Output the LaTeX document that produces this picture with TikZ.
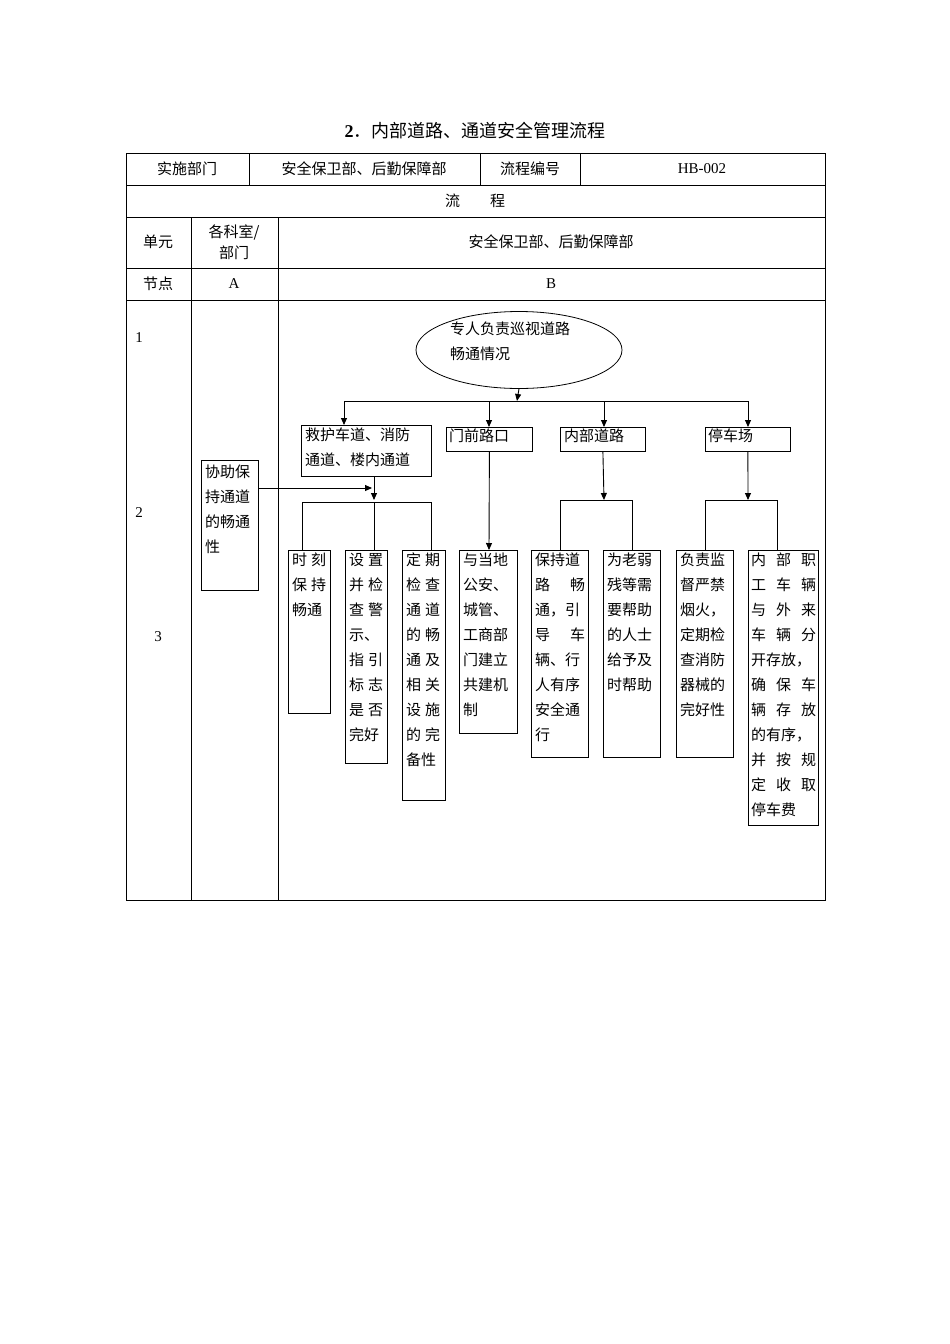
\documentclass[tikz,border=0pt]{standalone}
\usepackage{fontspec}
\setmainfont{Liberation Serif}
\newfontfamily\cjk{Noto Sans CJK SC}
\usetikzlibrary{arrows.meta,shapes.geometric}
\newcommand\jj[2]{\makebox[#1pt][s]{#2}}
\begin{document}
\begin{tikzpicture}[x=1pt,y=-1pt,
  every node/.style={font=\cjk\fontsize{15}{25}\selectfont, inner sep=0pt},
  tb/.style={draw, line width=0.6pt},
  bx/.style={draw, line width=0.8pt, anchor=north west},
  tx/.style={anchor=north west, align=left},
  ar/.style={-{Triangle[length=7pt,width=6pt]}, line width=0.9pt},
  ln/.style={line width=0.8pt}]
\useasboundingbox (0,0) rectangle (950,1344);
\node (title) at (475,131) {\fontsize{18}{20}\selectfont\textbf{\rmfamily 2}．内部道路、通道安全管理流程};
% table
\draw[tb] (126,153) rectangle (825,900);
\foreach \y in {185,217,268,300} \draw[tb] (126,\y) -- (825,\y);
\foreach \x in {249,480,580} \draw[tb] (\x,153) -- (\x,185);
\foreach \x in {191,278} \draw[tb] (\x,217) -- (\x,900);
\node (h1) at (187,169) {实施部门};
\node (h2) at (364,169) {安全保卫部、后勤保障部};
\node (h3) at (530,169) {流程编号};
\node (h4) at (702,169) {\rmfamily HB-002};
\node (h5) at (475,201) {流\hspace{30pt}程};
\node (u1) at (158,242) {单元};
\node (u2) at (234,242) [align=center, font=\cjk\fontsize{15}{21}\selectfont] {各科室/\\部门};
\node (u3) at (551,242) {安全保卫部、后勤保障部};
\node (n1) at (158,284) {节点};
\node (n2) at (234,284) {\rmfamily A};
\node (n3) at (551,284) {\rmfamily B};
\node (k1) at (139,338) {\rmfamily 1};
\node (k2) at (139,513) {\rmfamily 2};
\node (k3) at (158,637) {\rmfamily 3};
% ellipse
\node (e) at (519,350) [draw, ellipse, line width=0.8pt, minimum width=206pt, minimum height=77pt] {};
\node (et) at (450,322) [tx] {专人负责巡视道路\\畅通情况};
% level 1 boxes
\node (b1) at (301,425) [bx, line width=1.4pt, minimum width=130pt, minimum height=51pt] {};
\node at (305,428) [tx] {救护车道、消防\\通道、楼内通道};
\node (b2) at (446,427) [bx, minimum width=86pt, minimum height=24pt] {};
\node at (449,429) [tx] {门前路口};
\node (b3) at (560,427) [bx, minimum width=85pt, minimum height=24pt] {};
\node at (564,429) [tx] {内部道路};
\node (b4) at (705,427) [bx, minimum width=85pt, minimum height=24pt] {};
\node at (708,429) [tx] {停车场};
\coordinate (bus) at (517,401);
\draw[ar] (e.south) -- (bus);
\draw[ln] (344,401) -- (748,401);
\draw[ar] (344,401) -- (344,425);
\draw[ar] (489,401) -- (489,427);
\draw[ar] (604,401) -- (604,427);
\draw[ar] (748,401) -- (748,427);
% A box
\node (a) at (201,460) [bx, minimum width=57pt, minimum height=130pt] {};
\node at (205,465) [tx] {协助保\\持通道\\的畅通\\性};
\coordinate (j1) at (374,488);
\draw[ar] (a.east |- j1) -- (372,488);
\draw[ar] (374,476) -- (374,500);
% level 2 boxes
\node (c1) at (288,550) [bx, minimum width=42pt, minimum height=163pt] {};
\node at (292,553) [tx] {\jj{34}{时 刻}\\\jj{34}{保 持}\\畅通};
\node (c2) at (345,550) [bx, minimum width=42pt, minimum height=213pt] {};
\node at (349,553) [tx] {\jj{34}{设 置}\\\jj{34}{并 检}\\\jj{34}{查 警}\\示、\\\jj{34}{指 引}\\\jj{34}{标 志}\\\jj{34}{是 否}\\完好};
\node (c3) at (402,550) [bx, minimum width=43pt, minimum height=250pt] {};
\node at (406,553) [tx] {\jj{34}{定 期}\\\jj{34}{检 查}\\\jj{34}{通 道}\\\jj{34}{的 畅}\\\jj{34}{通 及}\\\jj{34}{相 关}\\\jj{34}{设 施}\\\jj{34}{的 完}\\备性};
\node (c4) at (459,550) [bx, line width=1.2pt, minimum width=58pt, minimum height=183pt] {};
\node at (463,553) [tx] {与当地\\公安、\\城管、\\工商部\\门建立\\共建机\\制};
\node (c5) at (531,550) [bx, minimum width=57pt, minimum height=207pt] {};
\node at (535,553) [tx] {保持道\\\jj{50}{路 畅}\\\jj{50}{通，引}\\\jj{50}{导 车}\\辆、行\\人有序\\安全通\\行};
\node (c6) at (603,550) [bx, line width=1.2pt, minimum width=57pt, minimum height=207pt] {};
\node at (607,553) [tx] {为老弱\\残等需\\要帮助\\的人士\\给予及\\时帮助};
\node (c7) at (676,550) [bx, minimum width=57pt, minimum height=207pt] {};
\node at (680,553) [tx] {负责监\\督严禁\\烟火，\\定期检\\查消防\\器械的\\完好性};
\node (c8) at (748,550) [bx, minimum width=70pt, minimum height=275pt] {};
\node at (751,553) [tx] {\jj{65}{内 部 职}\\\jj{65}{工 车 辆}\\\jj{65}{与 外 来}\\\jj{65}{车 辆 分}\\开存放，\\\jj{65}{确 保 车}\\\jj{65}{辆 存 放}\\的有序，\\\jj{65}{并 按 规}\\\jj{65}{定 收 取}\\停车费};
% connectors level 2
\draw[ln] (302,550) -- (302,502) -- (431,502) -- (431,550);
\draw[ln] (374,502) -- (374,550);
\draw[ar] (b2.south) -- (489,550);
\draw[ar] (b3.south) -- (604,500);
\draw[ln] (560,550) -- (560,500) -- (632,500) -- (632,550);
\draw[ar] (b4.south) -- (748,500);
\draw[ln] (705,550) -- (705,500) -- (777,500) -- (777,550);
\end{tikzpicture}
\end{document}
